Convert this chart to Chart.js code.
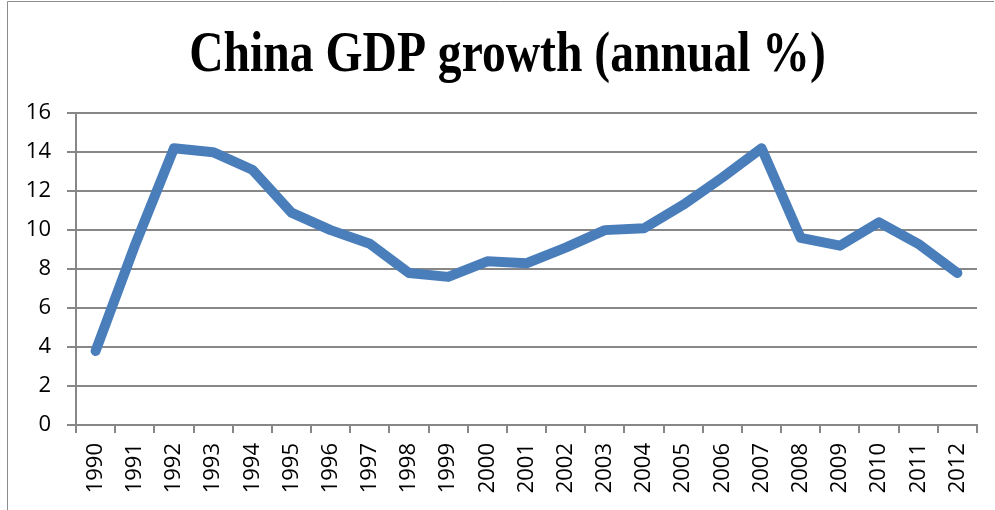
<!DOCTYPE html>
<html>
<head>
<meta charset="utf-8">
<script src="https://cdn.jsdelivr.net/npm/chart.js@4/dist/chart.umd.min.js"></script>
<style>
  html, body { margin: 0; padding: 0; background: #ffffff; }
  #wrap { position: relative; width: 995px; height: 510px; }
  canvas { display: block; }
</style>
</head>
<body>
<div id="wrap"><canvas id="c" width="995" height="510"></canvas></div>
<script>
const titleText = "China GDP growth (annual %)";
const years = ["1990","1991","1992","1993","1994","1995","1996","1997","1998","1999","2000","2001","2002","2003","2004","2005","2006","2007","2008","2009","2010","2011","2012"];
const gdpGrowth = [3.8, 9.2, 14.2, 14.0, 13.1, 10.9, 10.0, 9.3, 7.8, 7.6, 8.4, 8.3, 9.1, 10.0, 10.1, 11.3, 12.7, 14.2, 9.6, 9.2, 10.4, 9.3, 7.8];
const yTicks = [0, 2, 4, 6, 8, 10, 12, 14, 16];

const gridColor = "#878787";
const tickFont = { family: "'Open Sans', 'Liberation Sans', sans-serif", size: 22 };

const borderPlugin = {
  id: "outerBorder",
  beforeDraw(chart) {
    const ctx = chart.ctx;
    ctx.save();
    ctx.strokeStyle = "#8c8c8c";
    ctx.lineWidth = 1;
    ctx.beginPath();
    ctx.moveTo(7.5, 510);
    ctx.lineTo(7.5, 1.5);
    ctx.lineTo(994, 1.5);
    ctx.stroke();
    ctx.restore();
  }
};

const condenseTitle = {
  id: "condenseTitle",
  afterInit(chart) {
    const t = chart.titleBlock;
    if (!t || t._wrapped) return;
    const orig = t.draw.bind(t);
    t.draw = function () {
      const ctx = chart.ctx;
      const cx = (t.left + t.right) / 2;
      const target = 507.5;
      ctx.save();
      ctx.translate(target, 0);
      ctx.scale(0.85, 1);
      ctx.translate(-cx, 0);
      orig();
      ctx.restore();
    };
    t._wrapped = true;
  }
};

new Chart(document.getElementById("c"), {
  type: "line",
  data: {
    labels: years,
    datasets: [{
      label: "GDP growth",
      data: gdpGrowth,
      borderColor: "#4A7EBB",
      borderWidth: 10,
      borderCapStyle: "round",
      borderJoinStyle: "round",
      pointRadius: 0,
      pointHoverRadius: 0,
      tension: 0,
      fill: false
    }]
  },
  options: {
    responsive: false,
    animation: false,
    events: [],
    layout: { padding: { left: 0, right: 18, top: 0, bottom: 0 } },
    plugins: {
      legend: { display: false },
      tooltip: { enabled: false },
      title: {
        display: true,
        text: titleText,
        color: "#000000",
        font: { family: "'Liberation Serif', 'Times New Roman', serif", size: 56, weight: "bold", lineHeight: 1.2 },
        padding: { top: 23, bottom: 23 }
      }
    },
    scales: {
      x: {
        type: "category",
        offset: true,
        grid: {
          display: true,
          drawOnChartArea: false,
          drawTicks: true,
          tickLength: 8,
          color: gridColor,
          lineWidth: 2,
          offset: true
        },
        border: { display: true, color: gridColor, width: 2 },
        ticks: {
          color: "#000000",
          font: tickFont,
          minRotation: 90,
          maxRotation: 90,
          autoSkip: false,
          padding: 10
        },
        afterFit(scale) { scale.height = 85; }
      },
      y: {
        min: 0,
        max: 16,
        afterBuildTicks(scale) { scale.ticks = yTicks.map(v => ({ value: v })); },
        grid: {
          color: gridColor,
          lineWidth: 2,
          drawTicks: true,
          tickLength: 9
        },
        border: { display: true, color: gridColor, width: 2 },
        ticks: {
          color: "#000000",
          font: tickFont,
          padding: 16
        },
        afterFit(scale) { scale.width = 76; }
      }
    }
  },
  plugins: [borderPlugin, condenseTitle]
});
</script>
</body>
</html>
